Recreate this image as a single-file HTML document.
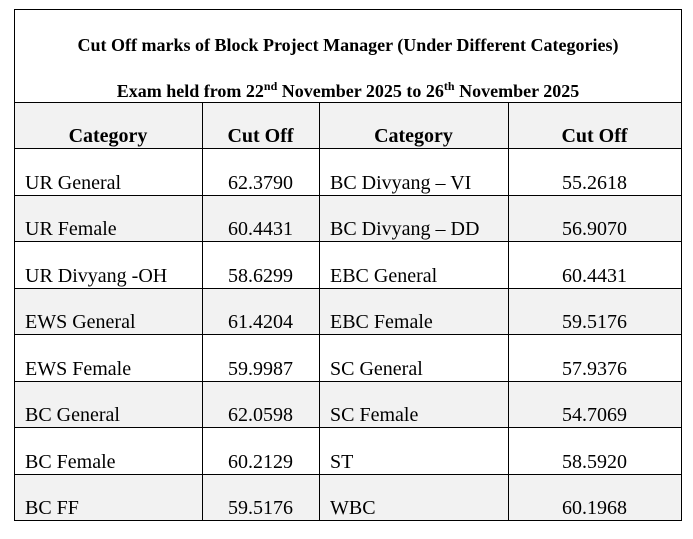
<!DOCTYPE html>
<html><head><style>
body{margin:0;width:693px;height:539px;background:#fff;position:relative;font-family:"Liberation Serif",serif;color:#000;overflow:hidden}
.b{position:absolute;background:#000}
.c{position:absolute;font-size:20px;line-height:20px;white-space:nowrap}
.g{position:absolute;background:#f2f2f2}
.h{font-weight:bold}
</style></head><body>
<div class="g" style="left:14px;top:102px;width:667px;height:46px"></div>
<div class="g" style="left:14px;top:195px;width:667px;height:46px"></div>
<div class="g" style="left:14px;top:288px;width:667px;height:47px"></div>
<div class="g" style="left:14px;top:381px;width:667px;height:47px"></div>
<div class="g" style="left:14px;top:474px;width:667px;height:46px"></div>
<div class="b" style="left:14px;top:9px;width:668px;height:1px"></div>
<div class="b" style="left:14px;top:102px;width:668px;height:1px"></div>
<div class="b" style="left:14px;top:148px;width:668px;height:1px"></div>
<div class="b" style="left:14px;top:195px;width:668px;height:1px"></div>
<div class="b" style="left:14px;top:241px;width:668px;height:1px"></div>
<div class="b" style="left:14px;top:288px;width:668px;height:1px"></div>
<div class="b" style="left:14px;top:334px;width:668px;height:1px"></div>
<div class="b" style="left:14px;top:381px;width:668px;height:1px"></div>
<div class="b" style="left:14px;top:427px;width:668px;height:1px"></div>
<div class="b" style="left:14px;top:474px;width:668px;height:1px"></div>
<div class="b" style="left:14px;top:520px;width:668px;height:1px"></div>
<div class="b" style="left:14px;top:9px;width:1px;height:512px"></div>
<div class="b" style="left:681px;top:9px;width:1px;height:512px"></div>
<div class="b" style="left:202px;top:102px;width:1px;height:419px"></div>
<div class="b" style="left:319px;top:102px;width:1px;height:419px"></div>
<div class="b" style="left:508px;top:102px;width:1px;height:419px"></div>
<div class="c h" style="left:14px;width:668px;text-align:center;top:35px;font-size:18px">Cut Off marks of Block Project Manager (Under Different Categories)</div>
<div class="c h" style="left:14px;width:668px;text-align:center;top:81px;font-size:18px">Exam held from 22<sup style="font-size:12px;line-height:0">nd</sup> November 2025 to 26<sup style="font-size:12px;line-height:0">th</sup> November 2025</div>
<div class="c h" style="left:14px;width:188px;text-align:center;top:126px">Category</div>
<div class="c h" style="left:202px;width:117px;text-align:center;top:126px">Cut Off</div>
<div class="c h" style="left:319px;width:189px;text-align:center;top:126px">Category</div>
<div class="c h" style="left:508px;width:173px;text-align:center;top:126px">Cut Off</div>
<div class="c" style="left:25px;top:173px">UR General</div><div class="c" style="left:202px;width:117px;text-align:center;top:173px">62.3790</div><div class="c" style="left:330px;top:173px">BC Divyang – VI</div><div class="c" style="left:508px;width:173px;text-align:center;top:173px">55.2618</div>
<div class="c" style="left:25px;top:219px">UR Female</div><div class="c" style="left:202px;width:117px;text-align:center;top:219px">60.4431</div><div class="c" style="left:330px;top:219px">BC Divyang – DD</div><div class="c" style="left:508px;width:173px;text-align:center;top:219px">56.9070</div>
<div class="c" style="left:25px;top:266px">UR Divyang -OH</div><div class="c" style="left:202px;width:117px;text-align:center;top:266px">58.6299</div><div class="c" style="left:330px;top:266px">EBC General</div><div class="c" style="left:508px;width:173px;text-align:center;top:266px">60.4431</div>
<div class="c" style="left:25px;top:312px">EWS General</div><div class="c" style="left:202px;width:117px;text-align:center;top:312px">61.4204</div><div class="c" style="left:330px;top:312px">EBC Female</div><div class="c" style="left:508px;width:173px;text-align:center;top:312px">59.5176</div>
<div class="c" style="left:25px;top:359px">EWS Female</div><div class="c" style="left:202px;width:117px;text-align:center;top:359px">59.9987</div><div class="c" style="left:330px;top:359px">SC General</div><div class="c" style="left:508px;width:173px;text-align:center;top:359px">57.9376</div>
<div class="c" style="left:25px;top:405px">BC General</div><div class="c" style="left:202px;width:117px;text-align:center;top:405px">62.0598</div><div class="c" style="left:330px;top:405px">SC Female</div><div class="c" style="left:508px;width:173px;text-align:center;top:405px">54.7069</div>
<div class="c" style="left:25px;top:452px">BC Female</div><div class="c" style="left:202px;width:117px;text-align:center;top:452px">60.2129</div><div class="c" style="left:330px;top:452px">ST</div><div class="c" style="left:508px;width:173px;text-align:center;top:452px">58.5920</div>
<div class="c" style="left:25px;top:498px">BC FF</div><div class="c" style="left:202px;width:117px;text-align:center;top:498px">59.5176</div><div class="c" style="left:330px;top:498px">WBC</div><div class="c" style="left:508px;width:173px;text-align:center;top:498px">60.1968</div>
</body></html>
